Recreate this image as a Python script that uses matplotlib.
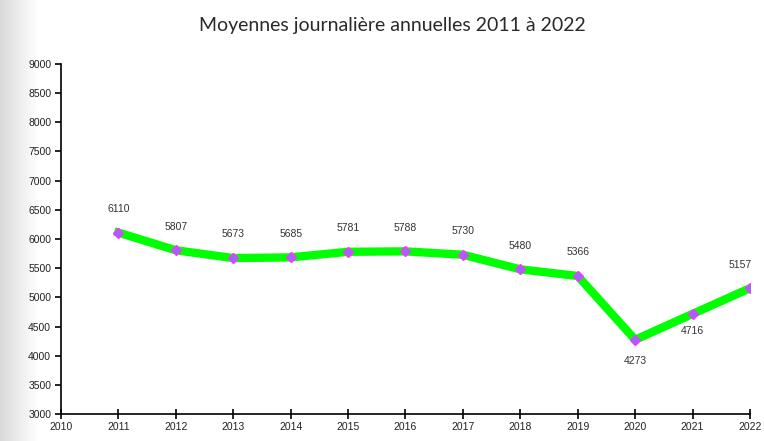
import numpy as np
import matplotlib
matplotlib.use("Agg")
import matplotlib.pyplot as plt

# Moyennes journalières annuelles
years = [2011, 2012, 2013, 2014, 2015, 2016, 2017, 2018, 2019, 2020, 2021, 2022]
values = [6110, 5807, 5673, 5685, 5781, 5788, 5730, 5480, 5366, 4273, 4716, 5157]
below = [2020, 2021]  # étiquettes placées sous le point

fig = plt.figure(figsize=(7.64, 4.41), dpi=100)

# ombre grise sur le bord gauche
bg = fig.add_axes([0, 0, 0.05, 1], zorder=-5)
grad = np.linspace(0.85, 1.0, 64)[None, :]
bg.imshow(np.repeat(grad, 2, axis=0), cmap="gray", vmin=0, vmax=1,
          aspect="auto", extent=[0, 1, 0, 1])
bg.axis("off")

ax = fig.add_axes([0.0798, 0.0612, 0.9019, 0.7937])
ax.plot(years, values, color="#00ff00", linewidth=6, zorder=2,
        solid_joinstyle="miter")
ax.plot(years, values, linestyle="none", marker="D", markersize=5.5,
        markerfacecolor="#9966ff", markeredgecolor="#ff33ff",
        markeredgewidth=1, zorder=3)

for x, v in zip(years, values):
    if x == 2020:
        dy = -15
    elif x == 2021:
        dy = -12
    else:
        dy = 17
    dx = -7 if x == 2022 else 0
    ax.annotate(str(v), (x, v), xytext=(dx, dy), textcoords="offset points",
                ha="center", va="center", fontsize=7.5, color="#333333",
                family="Liberation Sans")

ax.set_xlim(2010, 2022)
ax.set_ylim(3000, 9000)
ax.set_xticks(range(2010, 2023))
ax.set_yticks(range(3000, 9001, 500))
ax.spines[["top", "right"]].set_visible(False)
ax.spines[["left", "bottom"]].set_linewidth(1.2)
ax.tick_params(axis="x", direction="inout", length=7, width=1.2, pad=2,
               labelsize=7.5, labelcolor="#222222")
ax.tick_params(axis="y", direction="out", length=4, width=1.2, pad=3,
               labelsize=7.5, labelcolor="#222222")
for lbl in ax.get_xticklabels() + ax.get_yticklabels():
    lbl.set_family("Liberation Sans")
ax.set_facecolor("none")

fig.text(0.513, 0.943, "Moyennes journalière annuelles 2011 à 2022",
         ha="center", va="center", fontsize=14, color="#2a2a2a", family="Lato")

fig.savefig("out.png", dpi=100)
